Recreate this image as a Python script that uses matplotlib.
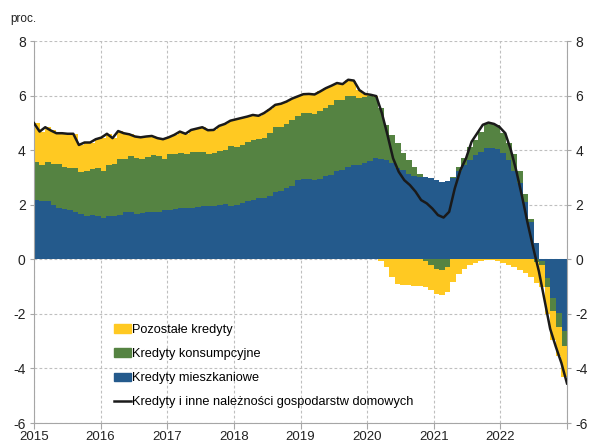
import numpy as np
import matplotlib.pyplot as plt
from matplotlib.patches import Patch
from matplotlib.lines import Line2D

# monthly contributions, Jan 2015 - Dec 2022 (p.p.)
years = list(range(2015, 2023))

mortgage = [
    2.19, 2.13, 2.12, 1.99, 1.89, 1.85, 1.81, 1.75, 1.65, 1.60, 1.61, 1.58,
    1.53, 1.58, 1.60, 1.63, 1.72, 1.73, 1.66, 1.68, 1.73, 1.74, 1.75, 1.81,
    1.81, 1.85, 1.89, 1.87, 1.88, 1.91, 1.94, 1.94, 1.97, 2.00, 2.03, 1.97,
    2.00, 2.05, 2.13, 2.17, 2.25, 2.26, 2.33, 2.48, 2.51, 2.60, 2.68, 2.90,
    2.95, 2.93, 2.89, 2.95, 3.06, 3.10, 3.24, 3.27, 3.37, 3.46, 3.44, 3.52,
    3.61, 3.70, 3.68, 3.64, 3.52, 3.36, 3.27, 3.13, 3.05, 3.00, 3.02, 2.98,
    2.90, 2.84, 2.88, 2.97, 3.25, 3.46, 3.64, 3.82, 3.94, 4.09, 4.07, 4.03,
    3.88, 3.65, 3.25, 2.80, 2.10, 1.35, 0.60, -0.05, -0.68, -1.42, -1.97, -2.61,
]

consumer = [
    1.39, 1.33, 1.46, 1.49, 1.60, 1.54, 1.52, 1.60, 1.56, 1.63, 1.69, 1.75,
    1.72, 1.88, 1.88, 2.03, 1.94, 2.06, 2.04, 2.00, 2.01, 2.07, 2.04, 1.87,
    2.05, 2.02, 2.02, 1.98, 2.05, 2.01, 1.99, 1.93, 1.94, 1.98, 1.98, 2.20,
    2.11, 2.15, 2.17, 2.20, 2.17, 2.18, 2.29, 2.36, 2.34, 2.35, 2.43, 2.34,
    2.41, 2.42, 2.44, 2.50, 2.49, 2.56, 2.61, 2.58, 2.63, 2.51, 2.47, 2.43,
    2.39, 2.25, 1.87, 1.29, 1.04, 0.89, 0.61, 0.51, 0.34, 0.13, -0.05, -0.20,
    -0.35, -0.40, -0.30, 0.06, 0.14, 0.24, 0.49, 0.56, 0.74, 0.87, 0.92, 0.90,
    0.74, 0.62, 0.60, 0.45, 0.30, 0.12, -0.10, -0.17, -0.35, -0.49, -0.52, -0.55,
]

other = [
    1.41, 1.22, 1.26, 1.24, 1.13, 1.23, 1.27, 1.25, 0.98, 1.05, 0.98, 1.07,
    1.21, 1.14, 0.96, 1.04, 0.96, 0.79, 0.80, 0.79, 0.76, 0.71, 0.65, 0.72,
    0.61, 0.69, 0.77, 0.75, 0.81, 0.87, 0.91, 0.86, 0.83, 0.91, 0.95, 0.91,
    1.02, 0.98, 0.93, 0.92, 0.84, 0.92, 0.88, 0.82, 0.85, 0.83, 0.78, 0.73,
    0.69, 0.71, 0.71, 0.70, 0.72, 0.70, 0.61, 0.57, 0.58, 0.55, 0.29, 0.11,
    0.03, 0.03, -0.05, -0.30, -0.65, -0.90, -0.96, -0.96, -0.97, -0.98, -0.97, -0.94,
    -0.91, -0.92, -0.90, -0.83, -0.55, -0.35, -0.20, -0.12, -0.06, -0.02, -0.03, -0.08,
    -0.12, -0.20, -0.30, -0.40, -0.50, -0.65, -0.78, -0.81, -0.97, -1.04, -1.06, -1.14,
]

total = [
    4.99, 4.68, 4.84, 4.72, 4.62, 4.62, 4.60, 4.60, 4.19, 4.28, 4.28, 4.40,
    4.46, 4.60, 4.44, 4.70, 4.62, 4.58, 4.50, 4.47, 4.50, 4.52, 4.44, 4.40,
    4.47, 4.56, 4.68, 4.60, 4.74, 4.79, 4.84, 4.73, 4.74, 4.89, 4.96, 5.08,
    5.13, 5.18, 5.23, 5.29, 5.26, 5.36, 5.50, 5.66, 5.70, 5.78, 5.89, 5.97,
    6.05, 6.06, 6.04, 6.15, 6.27, 6.36, 6.46, 6.42, 6.58, 6.55, 6.20, 6.06,
    6.03, 5.98, 5.36, 4.56, 3.70, 3.21, 2.90, 2.72, 2.48, 2.17, 2.05, 1.86,
    1.62, 1.53, 1.74, 2.60, 3.27, 3.70, 4.31, 4.62, 4.93, 5.01, 4.96, 4.84,
    4.62, 4.00, 3.21, 2.29, 1.31, 0.40, -0.45, -1.50, -2.55, -3.20, -3.80, -4.55,
]

labels = ['Kredyty mieszkaniowe', 'Kredyty konsumpcyjne', 'Pozostałe kredyty',
          'Kredyty i inne należności gospodarstw domowych']
colors = ['#245a8c', '#558342', '#ffc922']

plt.rcParams['font.family'] = ['Liberation Sans', 'DejaVu Sans']
plt.rcParams['axes.unicode_minus'] = False

fig = plt.figure(figsize=(5.9, 4.44), dpi=100)
ax = fig.add_axes([34 / 590, 21 / 444, 533 / 590, 382 / 444])

n = len(mortgage)
x = years[0] + (np.arange(n) + 0.5) / 12
pos_base = np.zeros(n)
neg_base = np.zeros(n)
for vals, col in zip([mortgage, consumer, other], colors):
    v = np.array(vals)
    base = np.where(v >= 0, pos_base, neg_base)
    ax.bar(x, v, width=1 / 12 * 1.03, bottom=base, color=col, linewidth=0, zorder=2)
    pos_base += np.clip(v, 0, None)
    neg_base += np.clip(v, None, 0)

xl = np.linspace(years[0], years[-1] + 1, n)
ax.plot(xl, total, color='#1a1a1a', lw=1.8, zorder=3)

ax.set_xlim(years[0], years[-1] + 1)
ax.set_ylim(-6, 8)
ax.set_yticks(range(-6, 9, 2))
ax.set_xticks(years + [years[-1] + 1])
ax.set_xticklabels([str(y) for y in years] + [''])
ax.grid(True, ls=(0, (2.5, 2)), color='#bfbfbf', lw=0.8, zorder=0)
ax.set_axisbelow(True)

for s in ['left', 'right', 'bottom']:
    ax.spines[s].set_color('#a6a6a6')
ax.spines['top'].set_visible(False)
ax.tick_params(axis='y', labelright=True, right=True, length=3, color='#a6a6a6',
               labelsize=10, pad=3, labelcolor='#222222')
ax.tick_params(axis='x', length=4, color='#a6a6a6', labelsize=9.5, pad=2,
               labelcolor='#222222')

fig.text(10 / 590, 1 - 19 / 444, 'proc.', fontsize=8.5, color='#222222', va='center')

handles = [Patch(color=colors[2]), Patch(color=colors[1]), Patch(color=colors[0]),
           Line2D([], [], color='#1a1a1a', lw=1.8)]
ax.legend(handles, [labels[2], labels[1], labels[0], labels[3]],
          loc='upper left', bbox_to_anchor=(114 / 590, 1 - 324 / 444),
          bbox_transform=fig.transFigure, frameon=False, fontsize=9.2,
          handlelength=1.3, handleheight=0.65, handletextpad=0.1,
          labelspacing=0.95, borderpad=0, borderaxespad=0)

fig.savefig('out.png', dpi=100)
